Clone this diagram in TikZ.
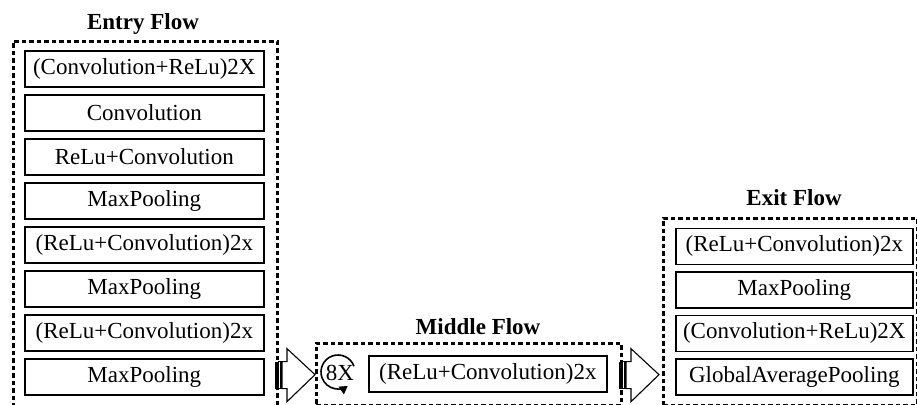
\documentclass[tikz,border=0pt]{standalone}
\usepackage{fontspec}
\setmainfont{Liberation Serif}
\usetikzlibrary{arrows.meta,calc}
\newcommand{\myStripedArrow}[1]{%
  \begin{scope}[shift={#1}]
    \fill[black] (-40,-13) rectangle (-37.5,14);
    \draw[line width=1.1pt] (-36.5,-13) rectangle (-34,14);
    \draw[line width=1.1pt, fill=white] (-33,-13) -- (-28,-13) -- (-28,-26) -- (0,0) -- (-28,27) -- (-28,14) -- (-33,14) -- cycle;
  \end{scope}}
\begin{document}
\begin{tikzpicture}[x=1pt,y=-1pt,
  box/.style={draw, line width=1.6pt, minimum width=239pt, minimum height=36pt, inner sep=0pt, font=\fontsize{23}{25}\selectfont, anchor=north west},
  flow/.style={draw, line width=2.8pt, dash pattern=on 4.5pt off 3pt, inner sep=0pt, anchor=north west},
  ttl/.style={font=\fontsize{23}{25}\selectfont\bfseries},
  loop/.style={line width=1.6pt, -{Triangle[length=8pt,width=9pt]}},
]
\useasboundingbox (0,0) rectangle (917,404);
\clip (0,0) rectangle (917,404);

% Entry flow
\node[ttl] (tentry) at (143,24) {Entry Flow};
\node[flow, minimum width=264pt, minimum height=370pt] (entryf) at (12,40) {};
\node[box] (e1) at (24,50) {(Convolution+ReLu)2X};
\node[box] (e2) at (24,94) {Convolution};
\node[box] (e3) at (24,138) {ReLu+Convolution};
\node[box] (e4) at (24,182) {MaxPooling};
\node[box] (e5) at (24,226) {(ReLu+Convolution)2x};
\node[box] (e6) at (24,270) {MaxPooling};
\node[box] (e7) at (24,314) {(ReLu+Convolution)2x};
\node[box] (e8) at (24,358) {MaxPooling};

% Middle flow
\node[ttl] (tmid) at (478,327) {Middle Flow};
\node[flow, minimum width=305pt, minimum height=61.5pt] (midf) at (315,342) {};
\node[box, minimum width=238pt] (m1) at (368,355) {(ReLu+Convolution)2x};
\coordinate (lc) at (338,372);
\node[font=\fontsize{23}{25}\selectfont, inner sep=0pt] (eight) at (340,373) {8X};
\draw[loop] ($(lc)+(-20:17)$) arc[start angle=-20, end angle=-305, radius=17];

% Exit flow
\node[ttl] (texit) at (794,198) {Exit Flow};
\node[flow, minimum width=254pt, minimum height=186.5pt] (exitf) at (662,217) {};
\node[box, minimum width=237pt] (x1) at (675,227.5) {(ReLu+Convolution)2x};
\node[box, minimum width=237pt] (x2) at (675,271) {MaxPooling};
\node[box, minimum width=237pt] (x3) at (675,314.5) {(Convolution+ReLu)2X};
\node[box, minimum width=237pt] (x4) at (675,358) {GlobalAveragePooling};

% Connecting arrows
\coordinate (tip1) at ($(midf.west)+(0,0.5)$);
\coordinate (tip2) at ($(exitf.west |- midf.west)+(-3,0.5)$);
\myStripedArrow{(tip1)}
\myStripedArrow{(tip2)}
\end{tikzpicture}
\end{document}
